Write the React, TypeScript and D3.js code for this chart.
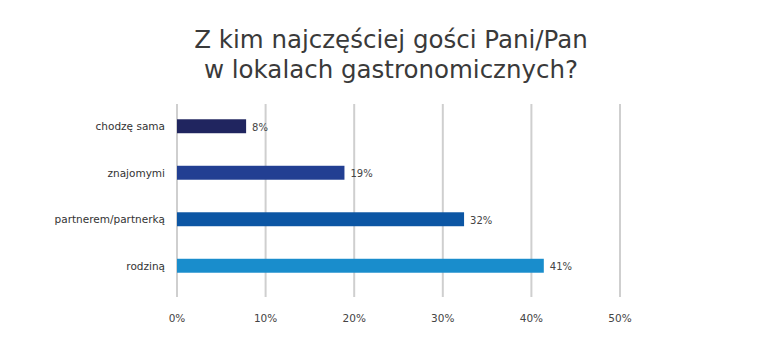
import React from "react";
import * as d3 from "d3";

const title = ["Z kim najczęściej gości Pani/Pan", "w lokalach gastronomicznych?"];
const categories = ["chodzę sama", "znajomymi", "partnerem/partnerką", "rodziną"];
const values = [7.8, 18.9, 32.4, 41.4];
const valueLabels = ["8%", "19%", "32%", "41%"];
const colors = ["#20255f", "#223f92", "#0c56a4", "#198dcc"];
const ticks = [0, 10, 20, 30, 40, 50];

const W = 783;
const H = 358;
const FONT = "'DejaVu Sans', 'Open Sans', sans-serif";

export default function App() {
  const x = d3.scaleLinear().domain([0, 50]).range([177, 620]);
  const y = d3.scaleBand().domain(categories).range([103, 289]).paddingInner(0.7).paddingOuter(0.35);
  return (
    <svg width={W} height={H} style={{ position: "absolute", left: 0, top: 0, background: "#fff" }}>
      <rect x={0} y={0} width={W} height={H} fill="#fff" />
      {title.map((t, i) => (
        <text key={i} x={391} y={48 + i * 30} textAnchor="middle" fontFamily={FONT} fontSize={24.5} fill="#3a3a3a">
          {t}
        </text>
      ))}
      {ticks.map((t) => (
        <g key={t}>
          <line x1={x(t)} x2={x(t)} y1={104} y2={297} stroke="#cfcfcf" strokeWidth={2} />
          <text x={x(t)} y={322} textAnchor="middle" fontFamily={FONT} fontSize={10.5} fill="#444">
            {t}%
          </text>
        </g>
      ))}
      {categories.map((c, i) => (
        <g key={c}>
          <rect x={x(0)} y={y(c)!} width={x(values[i]) - x(0)} height={y.bandwidth()} fill={colors[i]} />
          <text x={165} y={y(c)! + y.bandwidth() / 2} dominantBaseline="central" textAnchor="end" fontFamily={FONT} fontSize={10.5} fill="#333">
            {c}
          </text>
          <text x={x(values[i]) + 6} y={y(c)! + y.bandwidth() / 2 + 1} dominantBaseline="central" fontFamily={FONT} fontSize={10} fill="#444">
            {valueLabels[i]}
          </text>
        </g>
      ))}
    </svg>
  );
}
